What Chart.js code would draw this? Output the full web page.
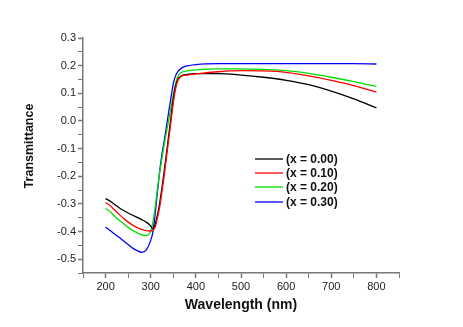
<!DOCTYPE html>
<html>
<head>
<meta charset="utf-8">
<script src="https://cdn.jsdelivr.net/npm/chart.js@4/dist/chart.umd.min.js"></script>
<style>
  body { margin: 0; background: #fff; }
  #wrap { width: 463px; height: 327px; }
</style>
</head>
<body>
<div id="wrap"><canvas id="myChart" width="463" height="327"></canvas></div>
<script>
{
  // wavelength (nm)
  const wavelengths = [200, 210, 220, 230, 240, 250, 260, 270, 280, 290, 300, 305, 310, 315, 320, 325, 330, 335, 340, 345, 350, 355, 360, 365, 370, 380, 400, 450, 500, 550, 600, 650, 700, 750, 800];

  const seriesLabels = ['(x = 0.00)', '(x = 0.10)', '(x = 0.20)', '(x = 0.30)'];
  const seriesColors = ['#000000', '#ff0000', '#00dd00', '#0000ff'];

  const x000 = [-0.281, -0.290, -0.302, -0.314, -0.324, -0.333, -0.341, -0.349, -0.357, -0.366, -0.380, -0.390, -0.372, -0.340, -0.295, -0.240, -0.180, -0.115, -0.050, 0.015, 0.080, 0.125, 0.150, 0.160, 0.165, 0.168, 0.171, 0.171, 0.166, 0.158, 0.147, 0.131, 0.108, 0.080, 0.047];
  const x010 = [-0.295, -0.306, -0.322, -0.338, -0.353, -0.366, -0.377, -0.386, -0.392, -0.397, -0.398, -0.395, -0.383, -0.350, -0.310, -0.255, -0.195, -0.130, -0.065, 0.000, 0.065, 0.115, 0.145, 0.158, 0.163, 0.166, 0.170, 0.178, 0.182, 0.181, 0.176, 0.163, 0.147, 0.128, 0.104];
  const x020 = [-0.317, -0.328, -0.345, -0.359, -0.372, -0.385, -0.396, -0.405, -0.412, -0.415, -0.398, -0.365, -0.310, -0.245, -0.185, -0.135, -0.085, -0.040, 0.005, 0.050, 0.095, 0.135, 0.160, 0.172, 0.177, 0.181, 0.185, 0.188, 0.188, 0.186, 0.182, 0.172, 0.158, 0.142, 0.125];
  const x030 = [-0.384, -0.396, -0.409, -0.421, -0.434, -0.447, -0.460, -0.469, -0.475, -0.467, -0.432, -0.400, -0.335, -0.255, -0.180, -0.120, -0.070, -0.020, 0.035, 0.085, 0.135, 0.163, 0.178, 0.187, 0.193, 0.199, 0.204, 0.207, 0.207, 0.207, 0.207, 0.207, 0.207, 0.207, 0.206];

  const seriesValues = [x000, x010, x020, x030];

  const yTitle = 'Transmittance';
  const xTitle = 'Wavelength (nm)';

  const axisColor = '#777';
  const tickFont = { family: 'Arial, "Liberation Sans", sans-serif', size: 11 };

  const isTenth = (v) => Math.abs(v * 10 - Math.round(v * 10)) < 1e-6;

  // titles + legend drawn by hand so they sit where the original has them
  const extras = {
    id: 'extras',
    afterDraw(chart) {
      const ctx = chart.ctx;
      ctx.save();
      ctx.fillStyle = '#111';
      ctx.textAlign = 'center';
      ctx.textBaseline = 'middle';

      ctx.font = 'bold 14px Arial, "Liberation Sans", sans-serif';
      ctx.fillText(xTitle, 241, 305);

      ctx.translate(30, 146);
      ctx.rotate(-Math.PI / 2);
      ctx.font = 'bold 12.5px Arial, "Liberation Sans", sans-serif';
      ctx.fillText(yTitle, 0, 0);
      ctx.restore();

      ctx.save();
      const rows = [159, 173, 187, 202];
      ctx.font = 'bold 12px Arial, "Liberation Sans", sans-serif';
      ctx.textAlign = 'left';
      ctx.textBaseline = 'middle';
      seriesLabels.forEach((label, i) => {
        ctx.strokeStyle = seriesColors[i];
        ctx.lineWidth = 1.3;
        ctx.beginPath();
        ctx.moveTo(255, rows[i]);
        ctx.lineTo(283, rows[i]);
        ctx.stroke();
        ctx.fillStyle = '#111';
        ctx.fillText(label, 286, rows[i] + 0.5);
      });
      ctx.restore();
    },
  };

  const datasets = seriesValues.map((vals, i) => ({
    label: seriesLabels[i],
    data: wavelengths.map((w, j) => ({ x: w, y: vals[j] })),
    borderColor: seriesColors[i],
    borderWidth: 1.3,
    pointRadius: 0,
    cubicInterpolationMode: 'monotone',
    fill: false,
    order: i === 1 ? 0 : i + 1,
  }));

  const chart = new Chart(document.getElementById('myChart'), {
    type: 'line',
    data: { datasets },
    options: {
      responsive: false,
      animation: false,
      layout: { padding: { top: 38, right: 64, left: 0, bottom: 0 } },
      plugins: { legend: { display: false }, tooltip: { enabled: false } },
      scales: {
        x: {
          type: 'linear',
          min: 150,
          max: 850,
          afterFit: (scale) => { scale.height = 54; },
          border: { color: axisColor, width: 1.5 },
          grid: {
            drawOnChartArea: false,
            color: axisColor,
            tickLength: 5,
            tickWidth: (c) => (c.tick && c.tick.value % 100 === 0 ? 1.5 : 1),
          },
          ticks: {
            stepSize: 50,
            autoSkip: false,
            maxRotation: 0,
            padding: 2,
            color: '#222',
            font: tickFont,
            callback: (v) => (v % 100 === 0 ? String(v) : ''),
          },
        },
        y: {
          min: -0.55,
          max: 0.3,
          afterFit: (scale) => { scale.width = 83; },
          border: { color: axisColor, width: 1.5 },
          grid: {
            drawOnChartArea: false,
            color: axisColor,
            tickLength: 5,
            tickWidth: (c) => (c.tick && isTenth(c.tick.value) ? 1.5 : 1),
          },
          ticks: {
            stepSize: 0.05,
            autoSkip: false,
            padding: 2,
            color: '#222',
            font: tickFont,
            callback: (v) => (isTenth(v) ? v.toFixed(1) : ''),
          },
        },
      },
    },
    plugins: [extras],
  });
}
</script>
</body>
</html>
